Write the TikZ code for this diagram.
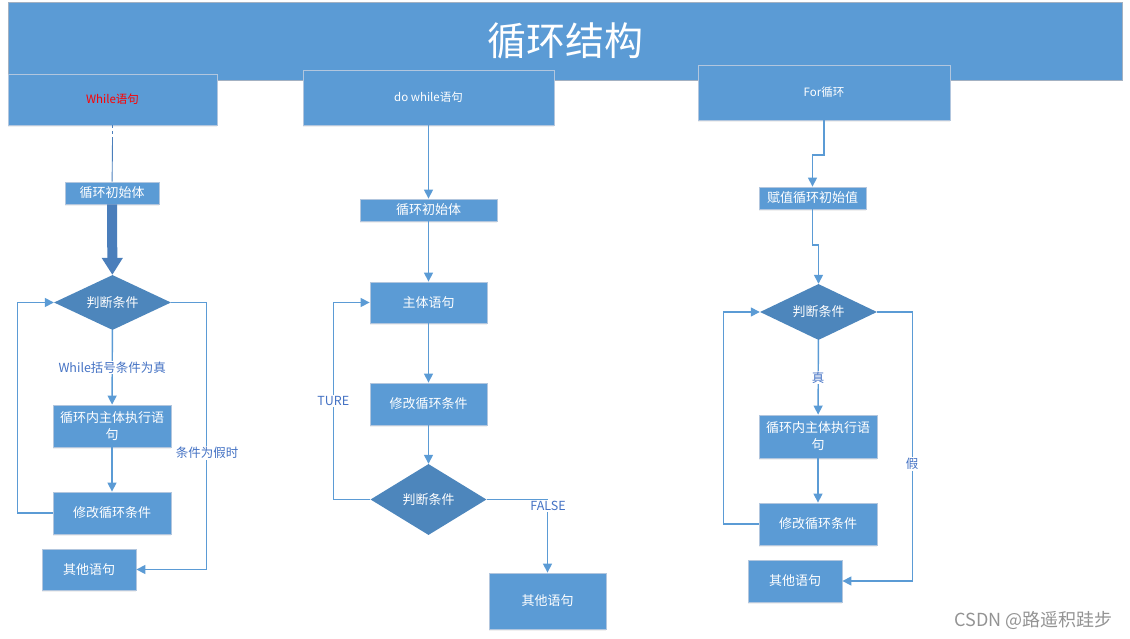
\documentclass[tikz,border=0pt]{standalone}
\usepackage{fontspec}
\setmainfont{Noto Sans CJK SC}
\usetikzlibrary{shapes.geometric}
\usetikzlibrary{arrows.meta}
\usetikzlibrary{shadows}

\definecolor{boxblue}{RGB}{91,155,213}
\definecolor{condblue}{RGB}{77,134,188}
\definecolor{fatblue}{RGB}{74,126,187}
\definecolor{edgegray}{RGB}{178,198,222}
\definecolor{lbltext}{RGB}{68,114,196}

\begin{document}
\begin{tikzpicture}[x=1pt, y=-1pt, >={Triangle[length=9pt,width=9pt]},
  box/.style={rectangle, fill=boxblue, draw=edgegray, line width=0.8pt, text=white,
    inner sep=0pt, align=center, font=\fontsize{13}{17}\selectfont,
    drop shadow={opacity=0.12, shadow xshift=0pt, shadow yshift=-2pt}},
  head/.style={box, font=\fontsize{11.5}{14}\selectfont},
  cond/.style={diamond, aspect=2.2, fill=condblue, text=white, inner sep=0pt,
    font=\fontsize{13}{17}\selectfont},
  link/.style={draw=boxblue, line width=1.4pt},
  lbl/.style={fill=white, text=lbltext, inner sep=1pt, font=\fontsize{12.5}{15}\selectfont}]
  \useasboundingbox (0,0) rectangle (1130,639);

  % banner
  \node[rectangle, fill=boxblue, draw=edgegray!70!gray, line width=0.6pt, text=white,
    minimum width=1114pt, minimum height=78pt, inner sep=0pt,
    font=\fontsize{39}{45}\selectfont] (title) at (565,41) {循环结构};

  % heads
  \node[head, minimum width=209pt, minimum height=51pt, text=red] (hwhile) at (112.5,99.5) {While语句};
  \node[head, minimum width=251pt, minimum height=55pt] (hdo) at (428.5,97.5) {do while语句};
  \node[head, minimum width=252pt, minimum height=55pt] (hfor) at (824,92.5) {For循环};

  % while
  \node[box, minimum width=94pt, minimum height=22pt] (winit) at (112,193) {循环初始体};
  \node[cond, minimum width=117pt, minimum height=55pt] (wcond) at (112.5,302.5) {判断条件};
  \node[box, minimum width=118pt, minimum height=42pt] (wbody) at (112,426) {循环内主体执行语\\句};
  \node[box, minimum width=118pt, minimum height=42pt] (wmod) at (112,513) {修改循环条件};
  \node[box, minimum width=94pt, minimum height=41pt] (wother) at (89,569.5) {其他语句};
  \coordinate (wdash) at (112.5,140);

  \draw[draw=fatblue, line width=0.9pt, dashed] (hwhile.south) -- (wdash);
  \draw[draw=fatblue, line width=0.9pt] (wdash) -- (winit);
  \draw[draw=fatblue, line width=10pt, -{Triangle[length=17pt,width=20pt]}] (winit) -- (wcond);
  \draw[link,->] (wcond) -- node[lbl] (wtrue) {While括号条件为真} (wbody);
  \draw[link,->] (wbody) -- (wmod);
  \draw[link,->] (wmod.west) -- ++(-35,0) |- (wcond.west);
  \draw[link,->] (wcond.east) -- ++(35,0) |- (wother.east);
  \node[lbl] (wfalse) at (207,453) {条件为假时};

  % do while
  \node[box, minimum width=137pt, minimum height=22pt] (dinit) at (428.5,210) {循环初始体};
  \node[box, minimum width=117pt, minimum height=41pt] (dbody) at (428.5,302.5) {主体语句};
  \node[box, minimum width=117pt, minimum height=42pt] (dmod) at (428.5,404) {修改循环条件};
  \node[cond, minimum width=116pt, minimum height=71pt] (dcond) at (428.5,499.5) {判断条件};
  \node[box, minimum width=117pt, minimum height=56pt] (dother) at (547.5,601) {其他语句};

  \draw[link,->] (hdo) -- (dinit);
  \draw[link,->] (dinit) -- (dbody);
  \draw[link,->] (dbody) -- (dmod);
  \draw[link,->] (dmod) -- (dcond);
  \draw[link,->] (dcond.west) -- ++(-37,0) |- node[pos=0.25, lbl] (dtrue) {TURE} (dbody.west);
  \draw[link,->] (dcond.east) -| (dother.north);
  \node[lbl] (dfalse) at (548,506) {FALSE};

  % for
  \node[box, minimum width=107pt, minimum height=22pt] (finit) at (812.5,198) {赋值循环初始值};
  \node[cond, minimum width=117pt, minimum height=56pt] (fcond) at (818.5,312) {判断条件};
  \node[box, minimum width=118pt, minimum height=43pt] (fbody) at (818,436.5) {循环内主体执行语\\句};
  \node[box, minimum width=118pt, minimum height=42pt] (fmod) at (818,524) {修改循环条件};
  \node[box, minimum width=94pt, minimum height=42pt] (fother) at (795,581) {其他语句};
  \coordinate (fjog1) at (824,155);
  \coordinate (fjog2) at (812.5,245);

  \draw[link,->] (hfor.south -| fjog1) -- (fjog1) -| (finit.north);
  \draw[link,->] (finit.south) -- (fjog2) -| (fcond.north);
  \draw[link,->] (fcond) -- node[lbl] (ftrue) {真} (fbody);
  \draw[link,->] (fbody) -- (fmod);
  \draw[link,->] (fmod.west) -- ++(-35,0) |- (fcond.west);
  \draw[link,->] (fcond.east) -- ++(35,0) |- (fother.east);
  \node[lbl] (ffalse) at (912,464) {假};

  % mark
  \node[anchor=east, text=gray!85, font=\fontsize{18}{21}\selectfont] (mark) at (1116,620) {CSDN @路遥积跬步};
\end{tikzpicture}
\end{document}
